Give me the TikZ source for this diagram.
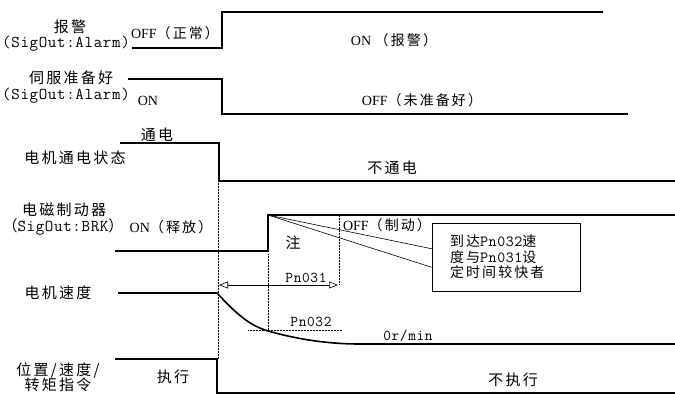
\documentclass[tikz,border=0pt]{standalone}
\usepackage{fontspec}
\setmainfont{Liberation Serif}
\setmonofont{Latin Modern Mono}[LetterSpace=4]
\newfontfamily\cjk{Noto Sans CJK SC}[LetterSpace=15]
\usetikzlibrary{arrows.meta,calc}
\tikzset{
  wave/.style={line width=1.6pt},
  thinline/.style={line width=0.6pt},
  guide/.style={line width=0.5pt, densely dotted},
  cn/.style={inner sep=0pt, font=\fontsize{15}{18}\selectfont\cjk},
  mn/.style={inner sep=0pt, font=\fontsize{16.5}{18}\selectfont\ttfamily},
  pn/.style={inner sep=0pt, font=\fontsize{15}{16}\selectfont\ttfamily},
  sr/.style={inner sep=0pt, font=\fontsize{14}{17}\selectfont},
  callout/.style={draw, line width=0.6pt, minimum width=148pt, minimum height=68pt,
    inner xsep=18pt, inner ysep=0pt, text width=112pt, align=left,
    font=\fontsize{14}{15.5}\selectfont\cjk},
  dimarrow/.style={thinline, {Triangle[open,length=9pt,width=7pt]}-{Triangle[open,length=9pt,width=7pt]}}
}
\begin{document}
\begin{tikzpicture}[x=1pt,y=-1pt]
\useasboundingbox (0,0) rectangle (675,394);

% ---------- Alarm ----------
\node[cn] (alarmA) at (70,27) {报警};
\node[mn] (alarmB) at (66,44) {(SigOut:Alarm)};
\node[sr] (alarmOff) at (175,33) {OFF\cjk（正常）};
\node[sr] (alarmOn) at (394,40) {ON \cjk（报警）};
\draw[wave] (132,48) -- (222,48) -- (222,12) -- (603,12);

% ---------- Servo ready ----------
\node[cn] (rdyA) at (71,78) {伺服准备好};
\node[mn] (rdyB) at (66,96) {(SigOut:Alarm)};
\node[sr] (rdyOn) at (148,101) {ON};
\node[sr] (rdyOff) at (422,100) {OFF\cjk（未准备好）};
\draw[wave] (128,79) -- (222,79) -- (222,114) -- (628,114);

% ---------- Motor power ----------
\node[cn] (pwrOn) at (157,135) {通电};
\node[cn] (pwrA) at (75,158) {电机通电状态};
\node[cn] (pwrOff) at (392,168) {不通电};
\draw[wave] (120,143) -- (219,143) -- (219,181) -- (675,181);

% ---------- Brake ----------
\node[cn] (brkA) at (64,210) {电磁制动器};
\node[inner sep=0pt, font=\fontsize{15}{18}\selectfont] (brkB) at (63,227) {{\cjk（}{\fontsize{16.5}{18}\selectfont\ttfamily SigOut:BRK}{\cjk）}};
\node[sr] (brkOn) at (171,227) {ON\cjk（释放）};
\node[cn] (note) at (293,243) {注};
\node[sr] (brkOff) at (387,225) {OFF\cjk（制动）};
\coordinate (brkTop) at (268,215);
\draw[wave] (115,251) -- (268,251) -- (brkTop) -- (675,215);

% callout
\node[callout] (box) at (506,257) {到达{\fontsize{15.5}{15.5}\selectfont\ttfamily Pn032}速\\度与{\fontsize{15.5}{15.5}\selectfont\ttfamily Pn031}设\\定时间较快者};
\draw[thinline] (brkTop) -- ($(box.north west)!0.38!(box.south west)$);
\draw[thinline] (brkTop) -- ($(box.north west)!0.65!(box.south west)$);

% ---------- Motor speed ----------
\node[cn] (spdA) at (58,293) {电机速度};
\node[pn] (pn31) at (306,278) {Pn031};
\node[pn] (pn32) at (311,322) {Pn032};
\node[pn] (zero) at (408,336) {0r/min};
\draw[wave] (118,293) -- (217,293)
  .. controls (240,318) and (252,326) .. (268,331)
  .. controls (300,340) and (330,344) .. (360,344) -- (675,344);
\draw[guide] (248,330) -- (342,330);
\coordinate (arrL) at (219,285);
\coordinate (arrR) at (338,285);
\draw[dimarrow] (arrL) -- (arrR);

% ---------- Command ----------
\node[cn] (cmdA) at (58,370) {位置/速度/};
\node[cn] (cmdB) at (58,385) {转矩指令};
\node[cn] (cmdOn) at (173,377) {执行};
\node[cn] (cmdOff) at (513,380) {不执行};
\draw[wave] (115,359) -- (217,359) -- (217,393) -- (675,393);

% ---------- guides ----------
\draw[guide] (218,181) -- (218,359);
\draw[guide] (268,254) -- (268,331);
\draw[guide] (339,216) -- (339,285);
\end{tikzpicture}
\end{document}
